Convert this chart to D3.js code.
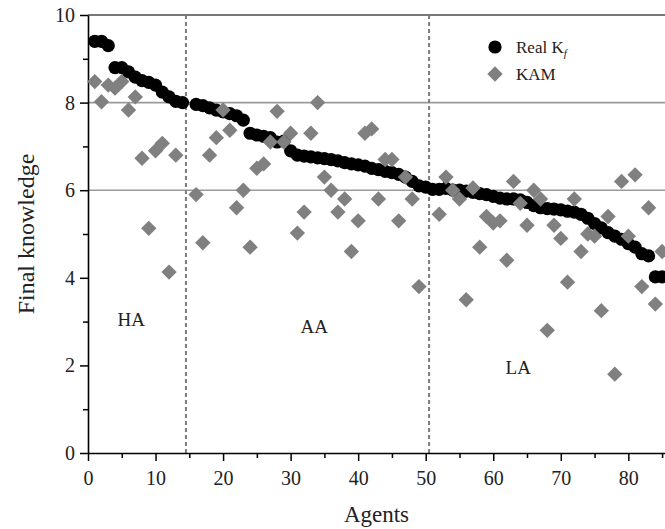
<!DOCTYPE html>
<html>
<head>
<meta charset="utf-8">
<script src="https://cdn.jsdelivr.net/npm/d3@7"></script>
<style>
  body { margin: 0; background: #fff; }
  text { font-family: "Liberation Serif", "Times New Roman", serif; }
</style>
</head>
<body>
<svg id="chart" width="665" height="529"></svg>
<script>
// agent index 1..85, null where no mark is visible
const agents = d3.range(1, 86);

const realKf = [
  9.40, 9.40, 9.30, 8.80, 8.80, 8.70, 8.58, 8.50, 8.46, 8.40,
  8.24, 8.13, 8.03, 8.00, null, 7.96, 7.93, 7.88, 7.83, 7.79,
  7.75, 7.70, 7.60, 7.30, 7.26, 7.23, 7.20, 7.10, 7.12, 6.90,
  6.80, 6.78, 6.76, 6.74, 6.72, 6.70, 6.67, 6.63, 6.60, 6.58,
  6.55, 6.50, 6.47, 6.43, 6.40, 6.36, 6.30, 6.20, 6.10, 6.07,
  6.02, 6.02, 6.04, 6.00, 6.00, 5.98, 5.95, 5.92, 5.90, 5.86,
  5.82, 5.80, 5.80, 5.78, 5.72, 5.65, 5.60, 5.58, 5.57, 5.55,
  5.52, 5.50, 5.45, 5.36, 5.24, 5.14, 5.03, 4.95, 4.88, 4.78,
  4.70, 4.55, 4.50, 4.02, 4.02
];

const kam = [
  8.48, 8.02, 8.40, 8.33, 8.48, 7.83, 8.13, 6.73, 5.13, 6.90,
  7.07, 4.13, 6.80, null, null, 5.90, 4.80, 6.80, 7.20, 7.83,
  7.37, 5.60, 6.00, 4.70, 6.50, 6.60, 7.10, 7.80, 7.10, 7.30,
  5.02, 5.50, 7.30, 8.00, 6.30, 6.00, 5.50, 5.80, 4.60, 5.30,
  7.30, 7.40, 5.80, 6.70, 6.70, 5.30, 6.30, 5.80, 3.80, null,
  null, 5.45, 6.30, 6.00, 5.80, 3.50, 6.05, 4.70, 5.40, 5.25,
  5.30, 4.40, 6.20, 5.70, 5.20, 6.00, 5.80, 2.80, 5.20, 4.90,
  3.90, 5.80, 4.60, 5.00, 4.95, 3.25, 5.40, 1.80, 6.20, 4.95,
  6.35, 3.80, 5.60, 3.40, 4.60
];

const xTicks = [0, 10, 20, 30, 40, 50, 60, 70, 80];
const yTicks = [0, 2, 4, 6, 8, 10];
const gridValues = [6, 8];
const groupBounds = [14.5, 50.5];
const groups = [
  {label: "HA", x: 6.4, y: 3.0},
  {label: "AA", x: 33.5, y: 2.85},
  {label: "LA", x: 63.7, y: 1.9}
];

const svg = d3.select("#chart");
const margin = {top: 15, right: 0, bottom: 76, left: 88};
const width = +svg.attr("width") - margin.left - margin.right;
const height = +svg.attr("height") - margin.top - margin.bottom;

const x = d3.scaleLinear().domain([0, 85.43]).range([0, width]);
const y = d3.scaleLinear().domain([0, 10]).range([height, 0]);

const g = svg.append("g").attr("transform", `translate(${margin.left},${margin.top})`);

// horizontal grid lines
g.selectAll(".grid")
  .data(gridValues)
  .join("line")
  .attr("x1", 0).attr("x2", width)
  .attr("y1", d => y(d)).attr("y2", d => y(d))
  .attr("stroke", "#9a9a9a")
  .attr("stroke-width", 1.6);

// top frame line
g.append("line")
  .attr("x1", 0).attr("x2", width)
  .attr("y1", y(10)).attr("y2", y(10))
  .attr("stroke", "#777")
  .attr("stroke-width", 2);

// group separators
g.selectAll(".sep")
  .data(groupBounds)
  .join("line")
  .attr("x1", d => x(d)).attr("x2", d => x(d))
  .attr("y1", y(10)).attr("y2", y(0))
  .attr("stroke", "#7c7c7c")
  .attr("stroke-width", 2)
  .attr("stroke-dasharray", "4,3");

// minor ticks
g.append("g")
  .attr("transform", `translate(0,${height})`)
  .call(d3.axisBottom(x).tickValues(d3.range(5, 86, 10)).tickSize(5).tickFormat(""))
  .call(a => a.select(".domain").remove())
  .selectAll("line").attr("stroke-width", 1.5);

g.append("g")
  .call(d3.axisLeft(y).tickValues(d3.range(1, 10, 2)).tickSize(5).tickFormat(""))
  .call(a => a.select(".domain").remove())
  .selectAll("line").attr("stroke-width", 1.5);

// main axes
const xAxisG = g.append("g")
  .attr("transform", `translate(0,${height})`)
  .call(d3.axisBottom(x).tickValues(xTicks).tickSize(8).tickPadding(10).tickSizeOuter(0));

const yAxisG = g.append("g")
  .call(d3.axisLeft(y).tickValues(yTicks).tickSize(8).tickPadding(5).tickSizeOuter(0));

[xAxisG, yAxisG].forEach(a => {
  a.select(".domain").attr("stroke-width", 1.6);
  a.selectAll(".tick line").attr("stroke-width", 1.5);
  a.selectAll("text")
    .style("font-family", '"Liberation Serif", serif')
    .style("font-size", "20px")
    .attr("fill", "#222");
});

// group labels
g.selectAll(".grp")
  .data(groups)
  .join("text")
  .attr("x", d => x(d.x))
  .attr("y", d => y(d.y))
  .attr("text-anchor", "middle")
  .attr("dominant-baseline", "middle")
  .style("font-size", "19px")
  .attr("fill", "#222")
  .text(d => d.label);

// Real Kf circles
const realData = agents.map((a, i) => ({a, v: realKf[i]})).filter(d => d.v !== null);
g.selectAll(".real")
  .data(realData)
  .join("circle")
  .attr("cx", d => x(d.a))
  .attr("cy", d => y(d.v))
  .attr("r", 6.6)
  .attr("fill", "#000");

// KAM diamonds
const diamond = d3.symbol().type(d3.symbolSquare).size(118);
const kamData = agents.map((a, i) => ({a, v: kam[i]})).filter(d => d.v !== null);
g.selectAll(".kam")
  .data(kamData)
  .join("path")
  .attr("d", diamond)
  .attr("transform", d => `translate(${x(d.a)},${y(d.v)}) rotate(45)`)
  .attr("fill", "#808080");

// legend
const legend = svg.append("g").attr("transform", "translate(495,47)");
legend.append("circle").attr("r", 6.6).attr("fill", "#000");
legend.append("path").attr("d", diamond)
  .attr("transform", "translate(0,27) rotate(45)").attr("fill", "#808080");
const t1 = legend.append("text").attr("x", 21).attr("y", 6)
  .style("font-size", "17px").attr("fill", "#222");
t1.append("tspan").text("Real K");
t1.append("tspan").attr("dy", 4).style("font-size", "11px").style("font-style", "italic").text("f");
legend.append("text").attr("x", 21).attr("y", 33)
  .style("font-size", "17px").attr("fill", "#222").text("KAM");

// axis titles
svg.append("text")
  .attr("x", margin.left + width / 2)
  .attr("y", 522)
  .attr("text-anchor", "middle")
  .style("font-size", "23px")
  .attr("fill", "#222")
  .text("Agents");

svg.append("text")
  .attr("transform", `translate(34,${margin.top + height / 2}) rotate(-90)`)
  .attr("text-anchor", "middle")
  .style("font-size", "24px")
  .attr("fill", "#222")
  .text("Final knowledge");
</script>
</body>
</html>
